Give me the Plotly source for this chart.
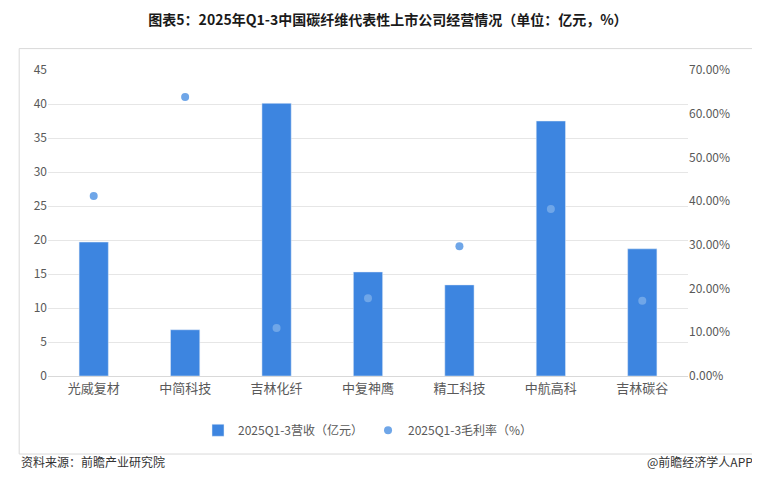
import plotly.graph_objects as go

companies = ["光威复材", "中简科技", "吉林化纤", "中复神鹰", "精工科技", "中航高科", "吉林碳谷"]
revenue = [19.7, 6.8, 40.1, 15.3, 13.4, 37.5, 18.7]
margin = [0.412, 0.638, 0.110, 0.178, 0.297, 0.382, 0.172]

fig = go.Figure()
fig.add_trace(go.Bar(x=companies, y=revenue, name="2025Q1-3营收（亿元）",
                     marker_color="#3d85e0", width=0.32))
fig.add_trace(go.Scatter(x=companies, y=margin, name="2025Q1-3毛利率（%）", yaxis="y2",
                         mode="markers", marker=dict(color="#6fa6e8", size=8)))

fig.update_layout(
    width=760, height=494, paper_bgcolor="white", plot_bgcolor="white",
    font=dict(family="Noto Sans CJK SC", size=12, color="#595959"),
    title=dict(text="<b>图表5：2025年Q1-3中国碳纤维代表性上市公司经营情况（单位：亿元，%）</b>",
               x=0.5, y=0.985, yanchor="top", xanchor="center", font=dict(size=14, color="#1a1a1a")),
    margin=dict(l=40, r=80, t=62, b=126),
    xaxis=dict(showline=True, linecolor="#d9d9d9", tickfont=dict(size=13)),
    yaxis=dict(range=[0, 45], dtick=5, gridcolor="#e6e6e6", zeroline=False),
    yaxis2=dict(range=[0, 0.7], dtick=0.1, tickformat=".2%", overlaying="y", side="right",
                showgrid=False, zeroline=False),
    legend=dict(orientation="h", x=0.5, xanchor="center", y=-0.13, yanchor="top",
                font=dict(size=12)),
    bargap=0.5,
    shapes=[dict(type="rect", xref="paper", yref="paper", x0=-0.045, x1=1.105, y0=-0.255, y1=1.07,
                 line=dict(color="#d9d9d9", width=1))],
    annotations=[
        dict(text="资料来源：前瞻产业研究院", xref="paper", yref="paper", x=-0.045, y=-0.315,
             xanchor="left", showarrow=False, font=dict(size=12, color="#333")),
        dict(text="@前瞻经济学人APP", xref="paper", yref="paper", x=1.105, y=-0.315,
             xanchor="right", showarrow=False, font=dict(size=12, color="#333")),
    ],
)
fig.write_html("out.html")
